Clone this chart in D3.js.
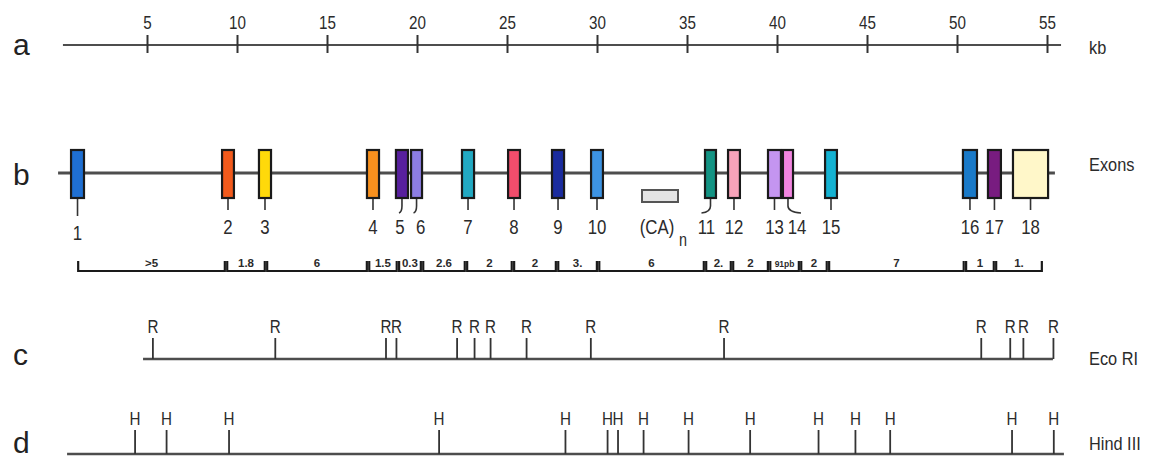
<!DOCTYPE html>
<html>
<head>
<meta charset="utf-8">
<script src="https://cdn.jsdelivr.net/npm/d3@7"></script>
<style>
  html, body { margin: 0; padding: 0; background: #ffffff; }
  svg { display: block; }
  text { font-family: "Liberation Sans", "DejaVu Sans", sans-serif; fill: #2b2b2b; }
  .row-letter { font-family: "Liberation Sans", Arial, sans-serif; font-size: 30px; fill: #222; }
</style>
</head>
<body>
<svg id="map" width="1150" height="460"></svg>
<script>
// Genomic scale ticks (kb)
const kbTicks = [5, 10, 15, 20, 25, 30, 35, 40, 45, 50, 55];

// Exons: number, start / end (kb), colour
const exonNames  = ["1","2","3","4","5","6","7","8","9","10","11","12","13","14","15","16","17","18"];
const exonStart  = [0.78, 9.17, 11.22, 17.22, 18.83, 19.67, 22.50, 25.06, 27.50, 29.67, 36.00, 37.28, 39.50, 40.33, 42.67, 50.33, 51.72, 53.11];
const exonEnd    = [1.50, 9.83, 11.89, 17.89, 19.50, 20.28, 23.17, 25.72, 28.17, 30.33, 36.61, 37.94, 40.22, 40.89, 43.33, 51.11, 52.44, 55.06];
const exonColors = ["#1f6fd2", "#f25a1c", "#ffd90a", "#f7901e", "#58209e", "#8c7de2",
                    "#22a9c2", "#f24d6c", "#1b2c9e", "#3d93e2", "#139383", "#f7a3ba",
                    "#c495f0", "#f285e0", "#14b2d2", "#1a7ac8", "#781c80", "#fff7c9"];

// (CA)n repeat, kb
const caStart = 32.5;
const caEnd   = 34.5;

// Intron size brackets: boundaries (kb) and the size written above each
const intervalBounds = [1.11, 9.39, 11.61, 17.28, 18.94, 20.28, 22.72, 25.33, 27.78, 30.06,
                        36.00, 37.50, 39.56, 41.28, 42.83, 50.44, 52.11, 54.78];
const intervalLabels = [">5", "1.8", "6", "1.5", "0.3", "2.6", "2", "2", "3.", "6",
                        "2.", "2", "91pb", "2", "7", "1", "1."];

// Restriction sites (kb)
const ecoRISites    = [5.30, 12.10, 18.25, 18.83, 22.20, 23.17, 24.06, 26.06, 29.63, 37.03, 51.32, 52.93, 53.66, 55.33];
const hindIIISites  = [4.31, 6.06, 9.53, 21.20, 28.22, 30.56, 31.14, 32.56, 35.06, 38.48, 42.28, 44.33, 46.26, 53.03, 55.35];

// ---------------------------------------------------------------------------
const svg = d3.select("#map");
const x = d3.scaleLinear().domain([0, 55]).range([57, 1047]);

const lineColor = "#4d4d4d";
const narrow = 0.8;            // horizontal squeeze for the condensed lettering
const rowY = { a: 45, b: 173, bracket: 271, c: 359, d: 454 };

function backbone(y, k0, k1, w) {
  svg.append("line")
    .attr("x1", x(k0)).attr("x2", x(k1))
    .attr("y1", y).attr("y2", y)
    .attr("stroke", lineColor).attr("stroke-width", w || 2.5);
}

// text drawn in a narrowed face, anchored at (px, py)
function narrowText(sel, px, py, squeeze) {
  const k = squeeze || narrow;
  return sel.attr("x", 0).attr("y", 0)
    .attr("transform", (d, i) => {
      const X = typeof px === "function" ? px(d, i) : px;
      const Y = typeof py === "function" ? py(d, i) : py;
      return `translate(${X},${Y}) scale(${k},1)`;
    });
}

function sideLabel(txt, y) {
  narrowText(svg.append("text"), 1089, y, 0.86)
    .attr("font-size", 19).attr("dominant-baseline", "middle").attr("fill", "#3a3a3a").text(txt);
}

function rowLetter(txt, y) {
  svg.append("text").attr("class", "row-letter").attr("x", 13).attr("y", y).text(txt);
}

// ----- a: kb scale ---------------------------------------------------------
backbone(rowY.a, 0.33, 55.78, 2.2);
const axA = svg.append("g")
  .attr("transform", `translate(0,${rowY.a})`)
  .call(d3.axisTop(x).tickValues(kbTicks).tickSize(10).tickPadding(6).tickFormat(d3.format("d")));
axA.select(".domain").remove();
axA.selectAll(".tick line").attr("y1", 8).attr("y2", -10).attr("stroke", "#333").attr("stroke-width", 2);
axA.selectAll(".tick text").attr("font-size", 19).attr("fill", "#2b2b2b")
  .attr("font-family", "'Liberation Sans', sans-serif")
  .attr("transform", `scale(${narrow},1)`);
rowLetter("a", 55);
sideLabel("kb", 49);

// ----- b: exons ------------------------------------------------------------
backbone(rowY.b, 0.06, 55.44, 3);
rowLetter("b", 185);
sideLabel("Exons", 166);

const exonH = 48;
const exonTop = rowY.b + 1 - exonH / 2;
const exonBottom = exonTop + exonH;

// leader tweaks where exon labels are pushed aside
const leaderEnd  = { "5": -3, "6": -3, "11": -9, "14": 13 };
const labelShift = { "5": -2, "6": 4, "11": -4, "14": 9 };

const exons = exonNames.map((n, i) => ({ n, s: exonStart[i], e: exonEnd[i], c: exonColors[i] }));

svg.append("g").selectAll("path").data(exons).join("path")
  .attr("d", d => {
    const xc = (x(d.s) + x(d.e)) / 2;
    const y0 = exonBottom;
    const drop = d.n === "1" ? 18 : 12;
    const dx = leaderEnd[d.n] || 0;
    if (!dx) return `M${xc},${y0}V${y0 + drop}`;
    return `M${xc},${y0}V${y0 + 8}Q${xc},${y0 + 14} ${xc + dx},${y0 + 15}`;
  })
  .attr("fill", "none").attr("stroke", "#333").attr("stroke-width", 1.6);

svg.append("g").selectAll("rect").data(exons).join("rect")
  .attr("x", d => x(d.s)).attr("width", d => x(d.e) - x(d.s))
  .attr("y", exonTop).attr("height", exonH)
  .attr("fill", d => d.c).attr("stroke", "#1a1a1a").attr("stroke-width", 2.2);

narrowText(
  svg.append("g").selectAll("text").data(exons).join("text"),
  d => (x(d.s) + x(d.e)) / 2 + (labelShift[d.n] || 0),
  d => d.n === "1" ? 240 : 234)
  .attr("text-anchor", "middle").attr("font-size", 21)
  .text(d => d.n);

// (CA)n repeat
svg.append("rect")
  .attr("x", x(caStart)).attr("width", x(caEnd) - x(caStart))
  .attr("y", 190).attr("height", 12)
  .attr("fill", "#e4e4e4").attr("stroke", "#555").attr("stroke-width", 2);
narrowText(svg.append("text"), (x(caStart) + x(caEnd)) / 2 - 3, 234)
  .attr("text-anchor", "middle").attr("font-size", 21).text("(CA)");
narrowText(svg.append("text"), x(caEnd) + 5, 246)
  .attr("text-anchor", "middle").attr("font-size", 18).text("n");

// intron-size brackets
const intervals = intervalLabels.map((t, i) => ({ t, a: intervalBounds[i], b: intervalBounds[i + 1] }));
const bY = rowY.bracket;
svg.append("g").selectAll("path").data(intervals).join("path")
  .attr("d", d => {
    const x0 = x(d.a) + 1.2, x1 = x(d.b) - 1.2;
    return `M${x0},${bY - 10}V${bY}H${x1}V${bY - 10}`;
  })
  .attr("fill", "none").attr("stroke", "#1a1a1a").attr("stroke-width", 2.2);
svg.append("g").selectAll("text").data(intervals).join("text")
  .attr("x", d => (x(d.a) + x(d.b)) / 2)
  .attr("y", bY - 4)
  .attr("text-anchor", "middle")
  .attr("font-family", "'Liberation Sans', Arial, sans-serif")
  .attr("font-weight", "bold")
  .attr("font-size", d => d.t === "91pb" ? 8.5 : 11.5)
  .attr("fill", "#1f1f1f")
  .text(d => d.t);

// ----- c / d: restriction maps ---------------------------------------------
function siteRow(sites, y, letter, k0, k1, tick) {
  backbone(y, k0, k1, 2.5);
  const g = svg.append("g").attr("transform", `translate(0,${y})`)
    .call(d3.axisTop(x).tickValues(sites).tickSize(tick).tickPadding(5).tickFormat(() => letter));
  g.select(".domain").remove();
  g.selectAll(".tick line").attr("stroke", "#333").attr("stroke-width", 1.8);
  g.selectAll(".tick text").attr("font-size", 19).attr("fill", "#2b2b2b")
    .attr("font-family", "'Liberation Sans', sans-serif")
    .attr("transform", `scale(${narrow},1)`);
}

siteRow(ecoRISites, rowY.c, "R", 4.78, 55.33, 21);
rowLetter("c", 365);
sideLabel("Eco RI", 360);

siteRow(hindIIISites, rowY.d, "H", 0.56, 55.94, 24);
rowLetter("d", 453);
sideLabel("Hind III", 445);
</script>
</body>
</html>
